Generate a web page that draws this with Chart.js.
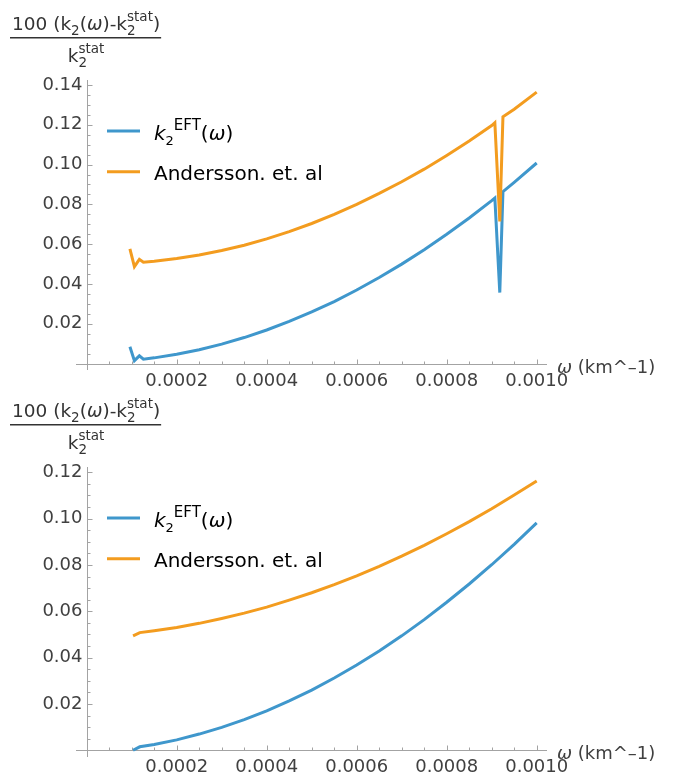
<!DOCTYPE html>
<html>
<head>
<meta charset="utf-8">
<script src="https://cdn.jsdelivr.net/npm/chart.js@4.4.1/dist/chart.umd.min.js"></script>
<style>
  body { margin: 0; background: #fff; }
  #wrap { position: relative; width: 673px; height: 776px; overflow: hidden; }
  canvas { position: absolute; left: 0; }
  #topChart { top: 0; }
  #bottomChart { top: 387px; }
</style>
</head>
<body>
<div id="wrap">
  <canvas id="topChart" width="673" height="400"></canvas>
  <canvas id="bottomChart" width="673" height="389"></canvas>
</div>
<script>
// series names
var seriesNames = ["k2EFT(ω)", "Andersson. et. al"];
var blue = "#3f97cc";
var orange = "#f39c1f";

// top panel (with the glitch near 0.00092)
var omegaTop = [0.000096, 0.000106, 0.000117, 0.000126, 0.00015, 0.0002, 0.00025, 0.0003, 0.00035, 0.0004,
  0.00045, 0.0005, 0.00055, 0.0006, 0.00065, 0.0007, 0.00075, 0.0008, 0.00085, 0.0009,
  0.000907, 0.000918, 0.000925, 0.00095, 0.001];
var k2EftTop = [0.0085, 0.0015, 0.0039, 0.0022, 0.0029, 0.0047, 0.0070, 0.0098, 0.0131, 0.0169,
  0.0212, 0.0260, 0.0312, 0.0370, 0.0433, 0.0500, 0.0572, 0.0650, 0.0732, 0.0819,
  0.0832, 0.0357, 0.0864, 0.0911, 0.1008];
var anderssonTop = [0.0576, 0.0487, 0.0524, 0.0509, 0.0514, 0.0528, 0.0546, 0.0568, 0.0595, 0.0627,
  0.0663, 0.0704, 0.0750, 0.0800, 0.0855, 0.0914, 0.0977, 0.1046, 0.1118, 0.1196,
  0.1210, 0.0714, 0.1240, 0.1278, 0.1364];

// bottom panel
var omegaBottom = [0.000103, 0.000118, 0.00015, 0.0002, 0.00025, 0.0003, 0.00035, 0.0004, 0.00045, 0.0005,
  0.00055, 0.0006, 0.00065, 0.0007, 0.00075, 0.0008, 0.00085, 0.0009, 0.00095, 0.001];
var k2EftBottom = [0.0, 0.0015, 0.0025, 0.0045, 0.0070, 0.0099, 0.0132, 0.0170, 0.0213, 0.0260,
  0.0312, 0.0368, 0.0429, 0.0494, 0.0564, 0.0639, 0.0718, 0.0801, 0.0889, 0.0982];
var anderssonBottom = [0.0494, 0.0508, 0.0516, 0.0530, 0.0548, 0.0569, 0.0592, 0.0618, 0.0648, 0.0680,
  0.0715, 0.0753, 0.0794, 0.0838, 0.0885, 0.0935, 0.0987, 0.1043, 0.1102, 0.1163];

// ticks
var xTickValues = [0.0002, 0.0004, 0.0006, 0.0008, 0.0010];
var xTickLabels = ["0.0002", "0.0004", "0.0006", "0.0008", "0.0010"];
var yTickValuesTop = [0.02, 0.04, 0.06, 0.08, 0.10, 0.12, 0.14];
var yTickLabelsTop = ["0.02", "0.04", "0.06", "0.08", "0.10", "0.12", "0.14"];
var yTickValuesBottom = [0.02, 0.04, 0.06, 0.08, 0.10, 0.12];
var yTickLabelsBottom = ["0.02", "0.04", "0.06", "0.08", "0.10", "0.12"];

var FAM = '"DejaVu Sans", sans-serif';
function font(size, italic) {
  return (italic ? "italic " : "") + size + "px " + FAM;
}

// one piece of rich text; returns its width
function piece(ctx, p, x, y, draw) {
  if (p.sub !== undefined) {
    ctx.font = font(p.s, false);
    var w = Math.max(ctx.measureText(p.sub).width, ctx.measureText(p.sup).width);
    if (draw) {
      ctx.fillText(p.sub, x, y + p.down);
      ctx.fillText(p.sup, x, y - p.up);
    }
    return w;
  }
  ctx.font = font(p.s, p.it);
  if (draw) ctx.fillText(p.t, x, y + (p.dy || 0));
  return ctx.measureText(p.t).width;
}
function richWidth(ctx, parts) {
  var w = 0;
  parts.forEach(function (p) { w += piece(ctx, p, 0, 0, false); });
  return w;
}
function richText(ctx, parts, x, y) {
  ctx.textAlign = "left";
  ctx.textBaseline = "alphabetic";
  parts.forEach(function (p) { x += piece(ctx, p, x, y, true); });
}

var numerParts = [
  { t: "100 (k", s: 18.5 },
  { t: "2", s: 13.5, dy: 5 },
  { t: "(", s: 18.5 },
  { t: "ω", s: 18.5, it: true },
  { t: ")-k", s: 18.5 },
  { sub: "2", sup: "stat", s: 13.5, down: 5, up: 9 },
  { t: ")", s: 18.5 }
];
var denomParts = [
  { t: "k", s: 18.5 },
  { sub: "2", sup: "stat", s: 13.5, down: 5, up: 9 }
];
var legendParts = [
  [{ t: "k", s: 20, it: true }, { t: "2", s: 13, dy: 5 }, { t: "EFT", s: 15, dy: -10 },
   { t: "(", s: 20 }, { t: "ω", s: 20, it: true }, { t: ")", s: 20 }],
  [{ t: seriesNames[1], s: 20 }]
];
var xLabelParts = [{ t: "ω", s: 18, it: true }, { t: " (km^–1)", s: 18 }];

var mmaAxes = {
  id: "mmaAxes",
  beforeDatasetsDraw: function (chart) {
    var ctx = chart.ctx, xs = chart.scales.x, ys = chart.scales.y, a = chart.chartArea;
    var x0 = Math.round(xs.getPixelForValue(0)) + 0.5;
    var y0 = Math.round(ys.getPixelForValue(0)) + 0.5;
    ctx.save();
    ctx.strokeStyle = "#a3a3a3";
    ctx.lineWidth = 1;
    ctx.beginPath();
    ctx.moveTo(a.left, y0); ctx.lineTo(a.right, y0);
    ctx.moveTo(x0, a.top); ctx.lineTo(x0, a.bottom);
    // x ticks every 0.00005, majors every 0.0002
    for (var i = 1; i * 0.00005 <= xs.max; i++) {
      var px = Math.round(xs.getPixelForValue(i * 0.00005)) + 0.5;
      var len = (i % 4 === 0) ? 5 : 3;
      ctx.moveTo(px, y0); ctx.lineTo(px, y0 - len);
    }
    // y ticks every 0.005, majors every 0.02
    for (var j = 1; j * 0.005 <= ys.max; j++) {
      var py = Math.round(ys.getPixelForValue(j * 0.005)) + 0.5;
      var l2 = (j % 4 === 0) ? 5 : 3;
      ctx.moveTo(x0, py); ctx.lineTo(x0 + l2, py);
    }
    ctx.stroke();

    var o = chart.options.plugins.mmaAxes;
    ctx.fillStyle = "#404040";
    ctx.font = font(18, false);
    ctx.textAlign = "center";
    ctx.textBaseline = "alphabetic";
    xTickValues.forEach(function (v, k) {
      ctx.fillText(xTickLabels[k], xs.getPixelForValue(v), y0 + 21);
    });
    ctx.textAlign = "right";
    ctx.textBaseline = "middle";
    o.yTicks.forEach(function (v, k) {
      ctx.fillText(o.yLabels[k], x0 - 5, ys.getPixelForValue(v));
    });
    richText(ctx, xLabelParts, a.right + 10, y0 + 8);

    // y axis label as a fraction
    ctx.fillStyle = "#333";
    var nw = richWidth(ctx, numerParts);
    var left = 12;
    richText(ctx, numerParts, left, 30);
    ctx.fillRect(left - 2, 37, nw + 3, 1.5);
    var dw = richWidth(ctx, denomParts);
    richText(ctx, denomParts, left + nw / 2 - dw / 2, 62);
    ctx.restore();
  },
  afterDraw: function (chart) {
    var ctx = chart.ctx;
    ctx.save();
    chart.data.datasets.forEach(function (ds, i) {
      var ly = 131 + i * 40.7;
      ctx.strokeStyle = ds.borderColor;
      ctx.lineWidth = 3;
      ctx.beginPath();
      ctx.moveTo(107, ly); ctx.lineTo(140, ly);
      ctx.stroke();
      ctx.fillStyle = "#000";
      richText(ctx, legendParts[i], 154, ly + 8.5);
    });
    ctx.restore();
  }
};

function toPoints(xs, ys) {
  return xs.map(function (x, i) { return { x: x, y: ys[i] }; });
}

function makeChart(id, h, omega, eft, andersson, yMin, yMax, yTicks, yLabels) {
  return new Chart(document.getElementById(id), {
    type: "line",
    data: {
      datasets: [
        { label: seriesNames[0], data: toPoints(omega, eft), borderColor: blue, order: 1 },
        { label: seriesNames[1], data: toPoints(omega, andersson), borderColor: orange, order: 0 }
      ]
    },
    options: {
      responsive: false,
      animation: false,
      devicePixelRatio: 1,
      layout: { padding: { left: 76, right: 126, top: 80, bottom: h - 370 } },
      elements: {
        line: { borderWidth: 3, tension: 0, fill: false, borderJoinStyle: "miter" },
        point: { radius: 0 }
      },
      scales: {
        x: { type: "linear", min: -0.0000238, max: 0.0010229, display: false },
        y: { type: "linear", min: yMin, max: yMax, display: false }
      },
      plugins: {
        legend: { display: false },
        tooltip: { enabled: false },
        mmaAxes: { yTicks: yTicks, yLabels: yLabels }
      }
    },
    plugins: [mmaAxes]
  });
}

makeChart("topChart", 400, omegaTop, k2EftTop, anderssonTop, -0.0032, 0.1425, yTickValuesTop, yTickLabelsTop);
makeChart("bottomChart", 389, omegaBottom, k2EftBottom, anderssonBottom, -0.0029, 0.1223, yTickValuesBottom, yTickLabelsBottom);
</script>
</body>
</html>
